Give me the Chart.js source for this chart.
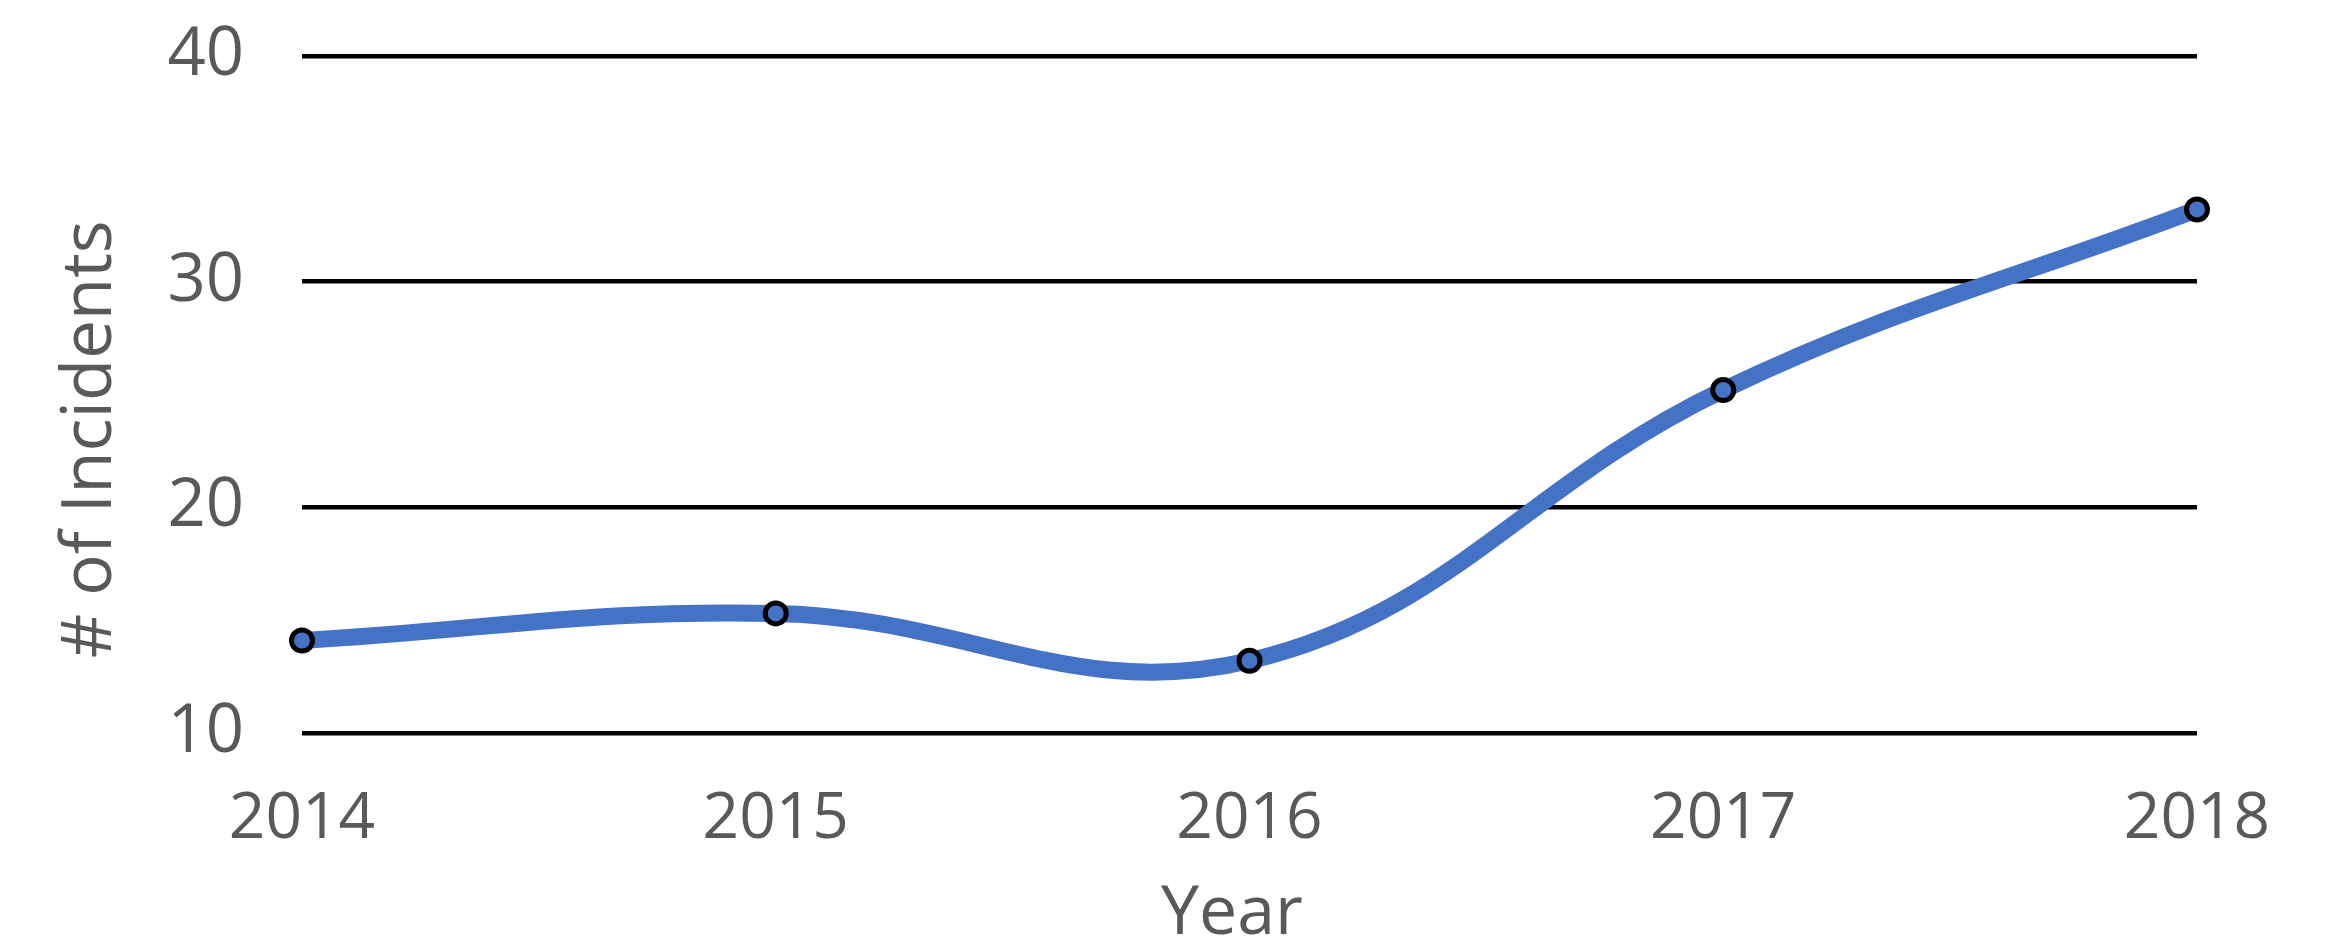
<!DOCTYPE html>
<html>
<head>
<meta charset="utf-8">
<script src="https://cdn.jsdelivr.net/npm/chart.js@4.4.1/dist/chart.umd.min.js"></script>
<style>
  html, body { margin: 0; padding: 0; background: #fff; }
  #wrap { width: 2332px; height: 950px; }
</style>
</head>
<body>
<div id="wrap"><canvas id="myChart" width="2332" height="950"></canvas></div>
<script>
// data
const years = ['2014', '2015', '2016', '2017', '2018'];
const incidents = [14.1, 15.3, 13.2, 25.2, 33.2];
const yMin = 10;
const yMax = 40;
const yStep = 10;

const textGrey = '#595959';
const lineBlue = '#4472C4';

// setup
const data = {
  labels: years,
  datasets: [{
    label: '# of Incidents',
    data: incidents,
    borderColor: lineBlue,
    borderWidth: 17,
    tension: 0.4,
    pointRadius: 10.5,
    pointBorderWidth: 5,
    pointBackgroundColor: lineBlue,
    pointBorderColor: '#000'
  }]
};

// config
const config = {
  type: 'line',
  data,
  options: {
    responsive: false,
    animation: false,
    devicePixelRatio: 1,
    layout: {
      padding: { left: 0, right: 135, top: 56, bottom: 0 }
    },
    plugins: {
      legend: { display: false },
      tooltip: { enabled: false }
    },
    scales: {
      x: {
        grid: { display: false, drawTicks: false },
        border: { display: false },
        ticks: {
          color: textGrey,
          padding: 48,
          maxRotation: 0,
          font: { family: 'Open Sans', size: 64 }
        },
        title: {
          display: true,
          text: 'Year  ',
          color: textGrey,
          padding: { top: 0, bottom: 1 },
          font: { family: 'Open Sans', size: 68, lineHeight: 1 }
        },
        afterFit: (scale) => { scale.height = 217; }
      },
      y: {
        min: yMin,
        max: yMax,
        grid: { color: '#000', lineWidth: 4.5, drawTicks: false },
        border: { display: false },
        ticks: {
          stepSize: yStep,
          color: textGrey,
          padding: 58,
          font: { family: 'Open Sans', size: 67 }
        },
        title: {
          display: true,
          text: '# of Incidents     ',
          color: textGrey,
          padding: { top: 50, bottom: 0 },
          font: { family: 'Open Sans', size: 69 }
        },
        afterFit: (scale) => {
          // tick padding would otherwise push the plot area down
          scale.width = 302;
          scale.paddingTop = 0;
          scale.paddingBottom = 0;
        }
      }
    }
  }
};

// render
const myChart = new Chart(document.getElementById('myChart'), config);
</script>
</body>
</html>
